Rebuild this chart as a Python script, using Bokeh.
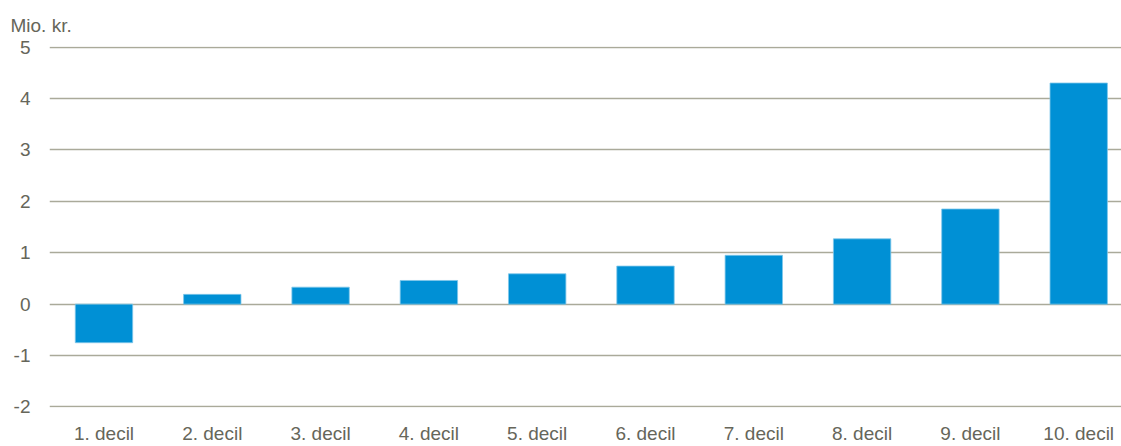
from bokeh.plotting import figure
from bokeh.models import ColumnDataSource, Range1d, FixedTicker, Title
from bokeh.embed import file_html
from bokeh.resources import INLINE

categories = ["1. decil", "2. decil", "3. decil", "4. decil", "5. decil",
              "6. decil", "7. decil", "8. decil", "9. decil", "10. decil"]
values = [-0.75, 0.19, 0.33, 0.46, 0.59, 0.74, 0.95, 1.27, 1.85, 4.30]
y_ticks = [-2, -1, 0, 1, 2, 3, 4, 5]
y_tick_labels = ["-2", "-1", "0", "1", "2", "3", "4", "5"]
unit_label = "Mio. kr."

positions = [i + 1 for i in range(len(categories))]
source = ColumnDataSource(data=dict(x=positions, top=values, cat=categories))

FONT = "Liberation Sans, Arial, sans-serif"
FONT_SIZE = "19px"
TEXT_COLOR = "#66665a"
GRID_COLOR = "#AAAA9A"

p = figure(width=1121, height=446, output_backend="svg", toolbar_location=None,
           x_range=Range1d(0.497, 10.395), y_range=Range1d(-2.01, 5.01),
           min_border_left=49, min_border_right=0, min_border_top=46,
           min_border_bottom=36)
p.outline_line_color = None
p.background_fill_color = "white"
p.border_fill_color = "white"

p.vbar(x="x", top="top", bottom=0, width=0.53, source=source,
       fill_color="#0090D5", line_color="#7FC6EA", line_width=0.8)

# axes
p.yaxis.ticker = FixedTicker(ticks=y_ticks)
p.yaxis.major_label_overrides = {t: s for t, s in zip(y_ticks, y_tick_labels)}
p.xaxis.ticker = FixedTicker(ticks=positions)
p.xaxis.major_label_overrides = {pos: c for pos, c in zip(positions, categories)}
for ax in (p.xaxis[0], p.yaxis[0]):
    ax.axis_line_color = None
    ax.major_tick_line_color = None
    ax.minor_tick_line_color = None
    ax.major_tick_out = 0
    ax.major_tick_in = 0
    ax.major_label_text_font = FONT
    ax.major_label_text_font_size = FONT_SIZE
    ax.major_label_text_color = TEXT_COLOR
p.yaxis.major_label_standoff = 19
p.xaxis.major_label_standoff = 15

p.xgrid.grid_line_color = None
p.ygrid.ticker = FixedTicker(ticks=y_ticks)
p.ygrid.grid_line_color = GRID_COLOR
p.ygrid.grid_line_width = 1.3

p.title = Title(text=unit_label, align="left", offset=-39, standoff=22,
                text_font=FONT, text_font_size=FONT_SIZE,
                text_color=TEXT_COLOR, text_font_style="normal")

open("out.html", "w").write(file_html(p, INLINE))
